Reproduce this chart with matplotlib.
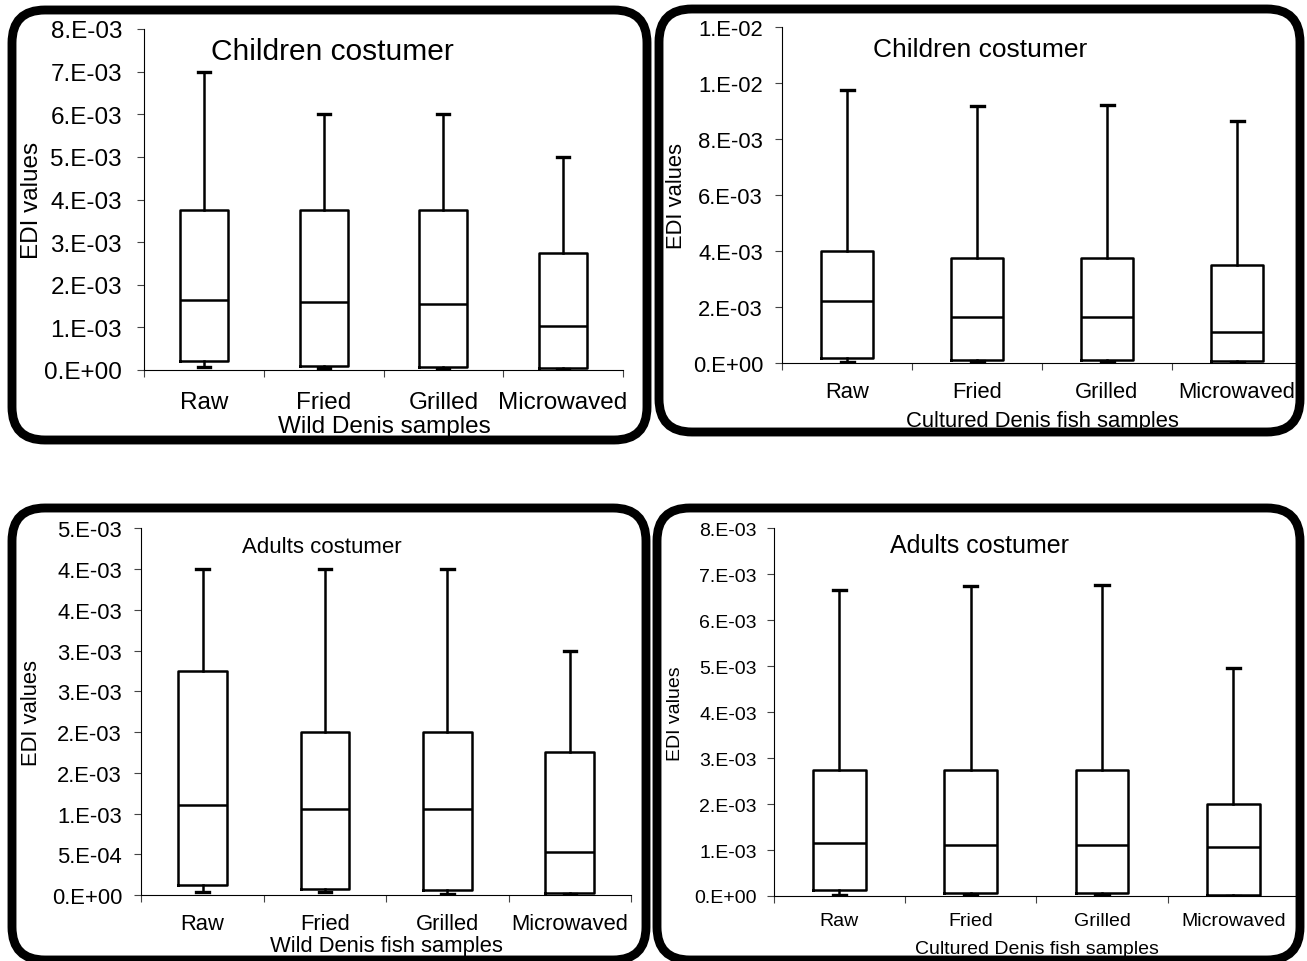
import matplotlib
matplotlib.use('Agg')
import matplotlib.pyplot as plt
from matplotlib.patches import FancyBboxPatch
from matplotlib.transforms import Affine2D

plt.rcParams['font.family'] = ['Liberation Sans', 'DejaVu Sans']

categories = ['Raw', 'Fried', 'Grilled', 'Microwaved']

# Panel 1: wild Denis, children consumer
p1_whishi = [7.0e-3, 6.0e-3, 6.0e-3, 5.0e-3]
p1_q3 = [3.75e-3, 3.75e-3, 3.75e-3, 2.75e-3]
p1_med = [1.64e-3, 1.60e-3, 1.55e-3, 1.03e-3]
p1_q1 = [0.22e-3, 0.10e-3, 0.06e-3, 0.04e-3]
p1_whislo = [0.06e-3, 0.05e-3, 0.02e-3, 0.02e-3]
p1_yticks = [0, 1e-3, 2e-3, 3e-3, 4e-3, 5e-3, 6e-3, 7e-3, 8e-3]
p1_ylabels = ['0.E+00', '1.E-03', '2.E-03', '3.E-03', '4.E-03', '5.E-03',
              '6.E-03', '7.E-03', '8.E-03']

# Panel 2: cultured Denis, children consumer
p2_whishi = [9.76e-3, 9.18e-3, 9.20e-3, 8.66e-3]
p2_q3 = [4.01e-3, 3.77e-3, 3.77e-3, 3.51e-3]
p2_med = [2.21e-3, 1.66e-3, 1.66e-3, 1.13e-3]
p2_q1 = [0.18e-3, 0.13e-3, 0.12e-3, 0.07e-3]
p2_whislo = [0.06e-3, 0.07e-3, 0.06e-3, 0.05e-3]
p2_yticks = [0, 2e-3, 4e-3, 6e-3, 8e-3, 10e-3, 12e-3]
p2_ylabels = ['0.E+00', '2.E-03', '4.E-03', '6.E-03', '8.E-03', '1.E-02', '1.E-02']

# Panel 3: wild Denis fish, adults consumer
p3_whishi = [4.0e-3, 4.0e-3, 4.0e-3, 3.0e-3]
p3_q3 = [2.75e-3, 2.0e-3, 2.0e-3, 1.75e-3]
p3_med = [1.10e-3, 1.05e-3, 1.05e-3, 0.53e-3]
p3_q1 = [0.127e-3, 0.074e-3, 0.057e-3, 0.03e-3]
p3_whislo = [0.04e-3, 0.035e-3, 0.015e-3, 0.01e-3]
p3_yticks = [0, 0.5e-3, 1.0e-3, 1.5e-3, 2.0e-3, 2.5e-3, 3.0e-3, 3.5e-3, 4.0e-3, 4.5e-3]
p3_ylabels = ['0.E+00', '5.E-04', '1.E-03', '2.E-03', '2.E-03', '3.E-03',
              '3.E-03', '4.E-03', '4.E-03', '5.E-03']

# Panel 4: cultured Denis fish, adults consumer
p4_whishi = [6.66e-3, 6.75e-3, 6.76e-3, 4.95e-3]
p4_q3 = [2.75e-3, 2.75e-3, 2.75e-3, 2.0e-3]
p4_med = [1.15e-3, 1.11e-3, 1.11e-3, 1.06e-3]
p4_q1 = [0.138e-3, 0.07e-3, 0.065e-3, 0.02e-3]
p4_whislo = [0.03e-3, 0.015e-3, 0.015e-3, 0.01e-3]
p4_yticks = [0, 1e-3, 2e-3, 3e-3, 4e-3, 5e-3, 6e-3, 7e-3, 8e-3]
p4_ylabels = ['0.E+00', '1.E-03', '2.E-03', '3.E-03', '4.E-03', '5.E-03',
              '6.E-03', '7.E-03', '8.E-03']

W, H = 1307, 962
DPI = 100
fig = plt.figure(figsize=(W / DPI, H / DPI), dpi=DPI)
fig.patch.set_facecolor('white')
px = Affine2D().scale(1 / DPI, -1 / DPI).translate(0, H / DPI) + fig.dpi_scale_trans


def add_panel(rect, border, whishi, q3, med, q1, whislo, yticks, ylabels,
              fs, title, title_fs, title_xy, xlabel, xlabel_xy, ylabel_xy,
              xpad, ypad):
    l, t, r, b = rect
    ax = fig.add_axes([l / W, 1 - b / H, (r - l) / W, (b - t) / H])
    stats = []
    for i in range(len(categories)):
        stats.append(dict(med=med[i], q1=q1[i], q3=q3[i],
                          whislo=whislo[i], whishi=whishi[i], fliers=[]))
    ax.bxp(stats, positions=[1, 2, 3, 4], widths=0.4, capwidths=0.1,
           showfliers=False,
           boxprops=dict(color='black', linewidth=1.8),
           whiskerprops=dict(color='black', linewidth=1.8),
           capprops=dict(color='black', linewidth=2.4),
           medianprops=dict(color='black', linewidth=1.8))
    ax.set_xlim(0.5, 4.5)
    ax.set_ylim(0, yticks[-1])
    ax.set_yticks(yticks, ylabels)
    ax.set_xticks([1, 2, 3, 4], categories)
    ax.set_xticks([0.5, 1.5, 2.5, 3.5, 4.5], minor=True)
    ax.tick_params(axis='x', which='major', length=0, pad=xpad, labelsize=fs)
    ax.tick_params(axis='x', which='minor', length=5, width=0.8, direction='out',
                   color='#444444')
    ax.tick_params(axis='y', which='major', length=5, width=0.8, direction='out',
                   pad=ypad, labelsize=fs, color='#444444')
    for s in ['top', 'right']:
        ax.spines[s].set_visible(False)
    for s in ['left', 'bottom']:
        ax.spines[s].set_linewidth(0.8)
        ax.spines[s].set_color('black')
    ax.patch.set_alpha(0)
    ax.text(title_xy[0], title_xy[1], title, transform=px, ha='center',
            va='baseline', fontsize=title_fs)
    ax.set_xlabel(xlabel, fontsize=fs, va='baseline', ha='center')
    ax.xaxis.set_label_coords(xlabel_xy[0], xlabel_xy[1], transform=px)
    ax.set_ylabel('EDI values', fontsize=fs, va='center', ha='center')
    ax.yaxis.set_label_coords(ylabel_xy[0], ylabel_xy[1], transform=px)

    bl, bt, br, bb = border
    patch = FancyBboxPatch((bl / DPI, (H - bb) / DPI), (br - bl) / DPI, (bb - bt) / DPI,
                           boxstyle='round,pad=0,rounding_size=0.33',
                           transform=fig.dpi_scale_trans, fill=False,
                           edgecolor='black', linewidth=6.4, zorder=10)
    fig.add_artist(patch)
    return ax


add_panel((144, 30, 623, 371), (12, 11, 647, 441),
          p1_whishi, p1_q3, p1_med, p1_q1, p1_whislo, p1_yticks, p1_ylabels,
          17.5, 'Children costumer', 21.5, (332, 60),
          'Wild Denis samples', (384, 433), (32.4, 200.8), 15.0, 10.8)

add_panel((782, 28, 1302, 364.3), (659, 10, 1300, 433),
          p2_whishi, p2_q3, p2_med, p2_q1, p2_whislo, p2_yticks, p2_ylabels,
          15.8, 'Children costumer', 19, (980, 57.3),
          'Cultured Denis fish samples', (1042.7, 426.7), (676, 195.8), 13.1, 8.6)

add_panel((141.4, 529.3, 631, 896), (12, 509, 646, 961),
          p3_whishi, p3_q3, p3_med, p3_q1, p3_whislo, p3_yticks, p3_ylabels,
          15.8, 'Adults costumer', 16, (322, 553.3),
          'Wild Denis fish samples', (386, 952), (31.6, 712.5), 13.1, 8.9)

add_panel((773.6, 529.3, 1299, 897), (657, 509, 1300, 961),
          p4_whishi, p4_q3, p4_med, p4_q1, p4_whislo, p4_yticks, p4_ylabels,
          14, 'Adults costumer', 18, (980, 552.7),
          'Cultured Denis fish samples', (1036.5, 954.5), (676, 713.3), 11.3, 7.0)

fig.savefig('out.png', dpi=DPI, facecolor='white')
